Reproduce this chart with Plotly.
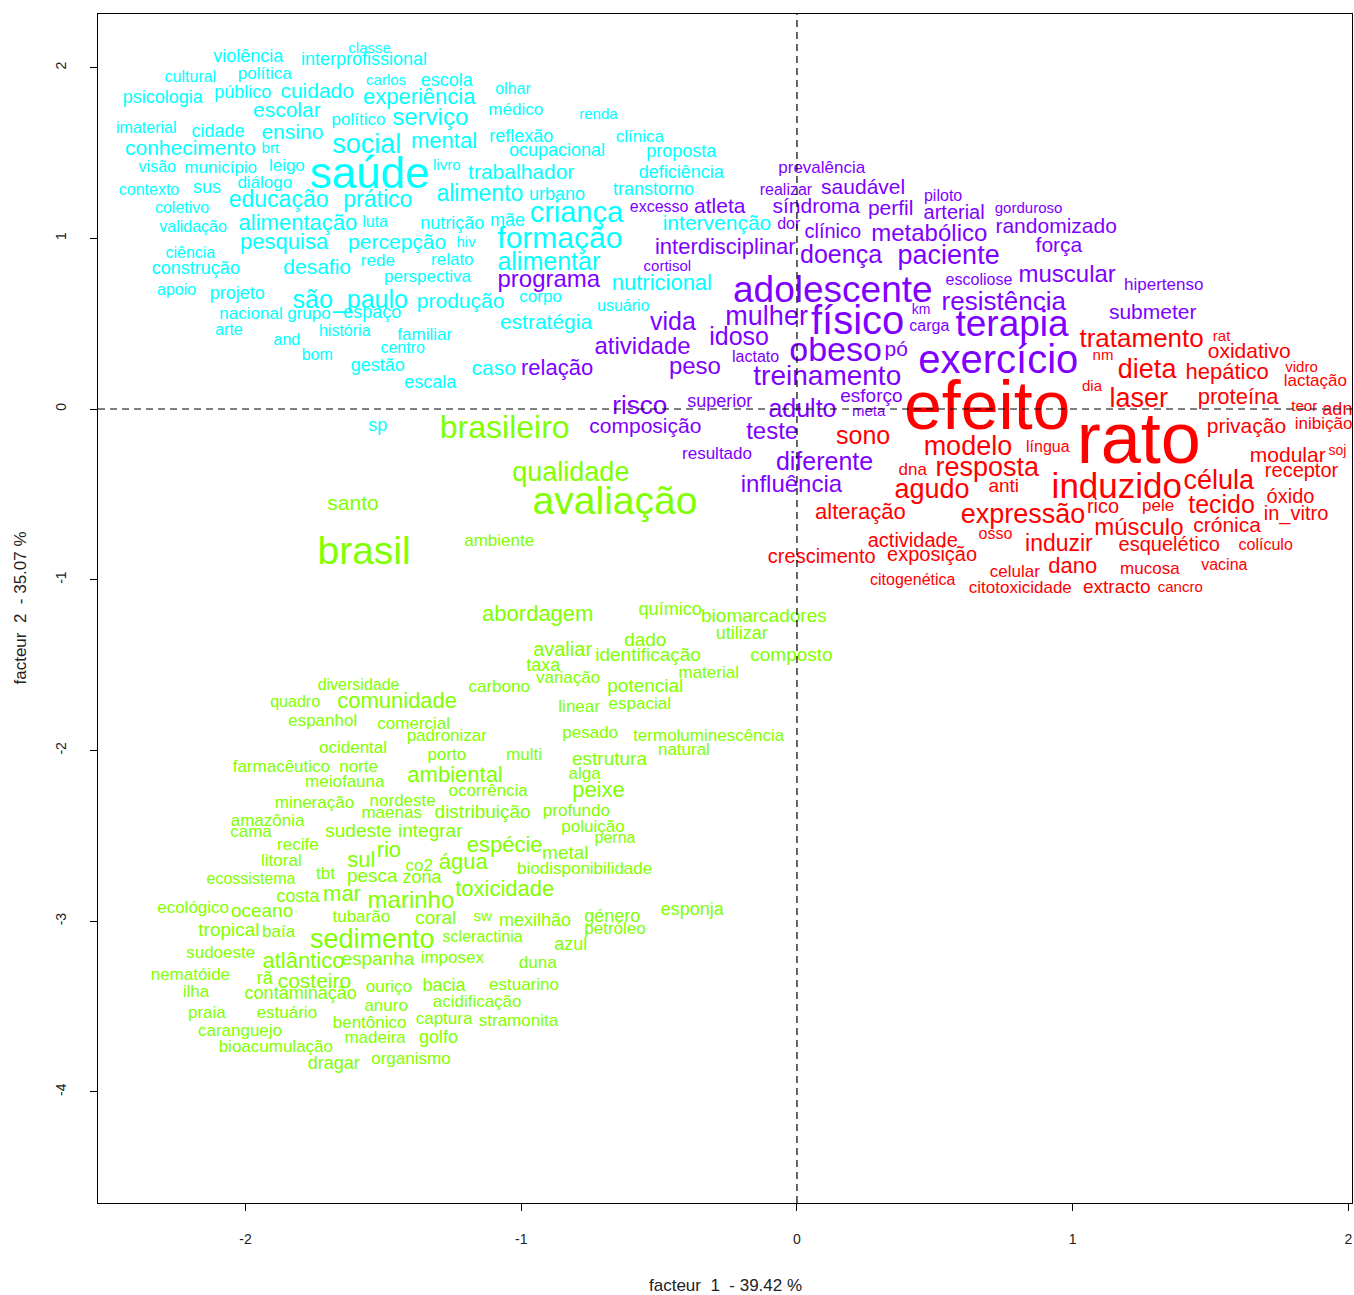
import plotly.graph_objects as go

# ---------------- data: factor coordinates of each word, per class ----------------
cyan_words = ["classe","violência","interprofissional","cultural","política","carlos","escola","olhar",
    "psicologia","público","cuidado","experiência","médico","renda","escolar","político","serviço",
    "imaterial","cidade","ensino","social","mental","reflexão","clínica","conhecimento","brt",
    "ocupacional","proposta","visão","município","leigo","saúde","livro","trabalhador","deficiência",
    "contexto","sus","diálogo","alimento","urbano","transtorno","educação","prático","coletivo",
    "validação","alimentação","luta","nutrição","mãe","criança","intervenção","formação","pesquisa",
    "percepção","hiv","ciência","construção","desafio","rede","relato","perspectiva","alimentar",
    "nutricional","apoio","projeto","são_paulo","produção","corpo","usuário","nacional","grupo",
    "espaço","estratégia","arte","and","história","familiar","centro","bom","gestão","caso","escala","sp"]
cyan_x = [-1.55,-1.99,-1.57,-2.20,-1.93,-1.49,-1.27,-1.03,
    -2.30,-2.01,-1.74,-1.37,-1.02,-0.72,-1.85,-1.59,-1.33,
    -2.36,-2.10,-1.83,-1.56,-1.28,-1.00,-0.57,-2.20,-1.91,
    -0.87,-0.42,-2.32,-2.09,-1.85,-1.55,-1.27,-1.00,-0.42,
    -2.35,-2.14,-1.93,-1.15,-0.87,-0.52,-1.88,-1.52,-2.23,
    -2.19,-1.81,-1.53,-1.25,-1.05,-0.80,-0.29,-0.86,-1.86,
    -1.45,-1.20,-2.20,-2.18,-1.74,-1.52,-1.25,-1.34,-0.90,
    -0.49,-2.25,-2.03,-1.62,-1.22,-0.93,-0.63,-1.98,-1.77,
    -1.54,-0.91,-2.06,-1.85,-1.64,-1.35,-1.43,-1.74,-1.52,-1.10,-1.33,-1.52]
cyan_y = [2.11,2.06,2.04,1.94,1.96,1.92,1.92,1.87,
    1.82,1.85,1.85,1.82,1.75,1.72,1.74,1.69,1.70,
    1.64,1.62,1.61,1.54,1.56,1.59,1.59,1.52,1.52,
    1.51,1.50,1.41,1.41,1.42,1.36,1.42,1.38,1.38,
    1.28,1.29,1.32,1.25,1.25,1.28,1.22,1.22,1.17,
    1.06,1.08,1.09,1.08,1.10,1.14,1.08,0.99,0.97,
    0.97,0.97,0.91,0.82,0.82,0.86,0.87,0.77,0.85,
    0.73,0.69,0.67,0.63,0.62,0.65,0.60,0.55,0.55,
    0.56,0.50,0.46,0.40,0.45,0.43,0.35,0.31,0.25,0.23,0.15,-0.10]
cyan_size = [15,18,18,16,17,15,18,16,
    18,18,21,22,17,15,21,17,24,
    16,18,21,27,22,18,17,21,15,
    18,18,16,17,17,44,15,21,18,
    16,18,17,23,18,18,23,23,16,
    16,22,16,18,18,29,21,30,22,
    21,15,16,18,21,17,17,17,25,
    22,16,18,25,21,17,16,17,17,
    18,21,16,16,16,17,16,16,18,21,18,18]

purple_words = ["prevalência","realizar","saudável","síndroma","perfil","piloto","arterial","gorduroso",
    "excesso","atleta","dor","clínico","metabólico","randomizado","interdisciplinar","doença","paciente",
    "força","cortisol","programa","adolescente","escoliose","muscular","hipertenso","resistência",
    "submeter","km","carga","terapia","mulher","físico","vida","idoso","atividade","lactato","obeso",
    "pó","peso","exercício","treinamento","relação","risco","superior","adulto","esforço","meta",
    "composição","teste","resultado","diferente","influência"]
purple_x = [0.09,-0.04,0.24,0.07,0.34,0.53,0.57,0.84,
    -0.50,-0.28,-0.03,0.13,0.48,0.94,-0.26,0.16,0.55,
    0.95,-0.47,-0.90,0.13,0.66,0.98,1.33,0.75,
    1.29,0.45,0.48,0.78,-0.11,0.22,-0.45,-0.21,-0.56,-0.15,0.14,
    0.36,-0.37,0.73,0.11,-0.87,-0.57,-0.28,0.02,0.27,0.26,
    -0.55,-0.09,-0.29,0.10,-0.02]
purple_y = [1.41,1.28,1.29,1.18,1.17,1.24,1.14,1.17,
    1.18,1.18,1.08,1.03,1.02,1.06,0.94,0.89,0.89,
    0.95,0.83,0.75,0.68,0.75,0.78,0.72,0.62,
    0.56,0.58,0.48,0.48,0.53,0.50,0.50,0.41,0.36,0.30,0.33,
    0.34,0.24,0.27,0.18,0.23,0.01,0.04,-0.01,0.07,-0.02,
    -0.11,-0.14,-0.27,-0.32,-0.45]
purple_size = [17,16,21,21,21,16,20,15,
    16,21,16,20,24,21,22,25,27,
    21,15,24,37,16,24,17,26,
    21,14,16,37,27,40,25,25,24,16,34,
    21,24,40,28,22,26,18,25,19,15,
    21,24,17,25,24]

red_words = ["tratamento","rat","oxidativo","nm","dieta","hepático","vidro","lactação","dia","laser",
    "proteína","teor","adn","efeito","rato","sono","modelo","língua","privação","inibição","modular",
    "soj","dna","resposta","receptor","induzido","célula","agudo","anti","alteração","expressão","rico",
    "pele","tecido","óxido","in_vitro","músculo","crónica","actividade","osso","induzir","esquelético",
    "colículo","crescimento","exposição","dano","mucosa","vacina","celular","citogenética",
    "citotoxicidade","extracto","cancro"]
red_x = [1.25,1.54,1.64,1.11,1.27,1.56,1.83,1.88,1.07,1.24,
    1.60,1.84,1.96,0.69,1.24,0.24,0.62,0.91,1.63,1.91,1.78,
    1.96,0.42,0.69,1.83,1.16,1.53,0.49,0.75,0.23,0.82,1.11,
    1.31,1.54,1.79,1.81,1.24,1.56,0.42,0.72,0.95,1.35,
    1.70,0.09,0.49,1.00,1.28,1.55,0.79,0.42,
    0.81,1.16,1.39]
red_y = [0.40,0.42,0.33,0.31,0.22,0.21,0.24,0.16,0.13,0.05,
    0.06,0.01,-0.01,-0.02,-0.21,-0.17,-0.23,-0.23,-0.11,-0.09,-0.28,
    -0.25,-0.36,-0.35,-0.37,-0.47,-0.43,-0.48,-0.46,-0.61,-0.63,-0.58,
    -0.57,-0.57,-0.52,-0.62,-0.70,-0.69,-0.78,-0.74,-0.80,-0.80,
    -0.80,-0.87,-0.86,-0.93,-0.94,-0.92,-0.96,-1.01,
    -1.05,-1.05,-1.05]
red_size = [26,15,21,15,27,22,15,17,15,27,
    22,15,18,68,72,25,27,16,21,17,21,
    14,17,27,20,35,27,27,19,22,27,20,
    17,25,20,20,24,21,20,16,23,20,
    16,20,20,22,17,16,17,16,
    17,19,15]

green_words = ["brasileiro","qualidade","avaliação","santo","ambiente","brasil","abordagem","químico",
    "biomarcadores","utilizar","dado","avaliar","identificação","composto","taxa","variação","material",
    "carbono","potencial","linear","espacial","pesado","termoluminescência","natural","multi","estrutura",
    "alga","peixe","diversidade","quadro","comunidade","espanhol","comercial","padronizar","ocidental",
    "porto","farmacêutico","norte","meiofauna","ambiental","mineração","nordeste","ocorrência","maenas",
    "distribuição","profundo","amazônia","cama","sudeste","integrar","poluição","perna","recife","rio",
    "espécie","metal","litoral","sul","co2","água","biodisponibilidade","ecossistema","tbt","pesca",
    "zona","toxicidade","costa","mar","marinho","ecológico","oceano","tubarão","coral","sw","mexilhão",
    "género","esponja","petróleo","tropical","baía","sedimento","scleractinia","azul","sudoeste",
    "atlântico","espanha","imposex","duna","nematóide","rã","costeiro","ouriço","bacia","estuarino",
    "ilha","contaminação","anuro","acidificação","praia","estuário","bentônico","captura","stramonita",
    "caranguejo","madeira","golfo","bioacumulação","dragar","organismo"]
green_x = [-1.06,-0.82,-0.66,-1.61,-1.08,-1.57,-0.94,-0.46,
    -0.12,-0.20,-0.55,-0.85,-0.54,-0.02,-0.92,-0.83,-0.32,
    -1.08,-0.55,-0.79,-0.57,-0.75,-0.32,-0.41,-0.99,-0.68,
    -0.77,-0.72,-1.59,-1.82,-1.45,-1.72,-1.39,-1.27,-1.61,
    -1.27,-1.87,-1.59,-1.64,-1.24,-1.75,-1.43,-1.12,-1.47,
    -1.14,-0.80,-1.92,-1.98,-1.59,-1.33,-0.74,-0.66,-1.81,-1.48,
    -1.06,-0.84,-1.87,-1.58,-1.37,-1.21,-0.77,-1.98,-1.71,-1.54,
    -1.36,-1.06,-1.81,-1.65,-1.40,-2.19,-1.94,-1.58,-1.31,-1.14,-0.95,
    -0.67,-0.38,-0.66,-2.06,-1.88,-1.54,-1.14,-0.82,-2.09,
    -1.79,-1.52,-1.25,-0.94,-2.20,-1.93,-1.75,-1.48,-1.28,-0.99,
    -2.18,-1.80,-1.49,-1.16,-2.14,-1.85,-1.55,-1.28,-1.01,
    -2.02,-1.53,-1.30,-1.89,-1.68,-1.40]
green_y = [-0.12,-0.38,-0.56,-0.56,-0.78,-0.85,-1.21,-1.18,
    -1.22,-1.32,-1.36,-1.42,-1.45,-1.45,-1.51,-1.58,-1.55,
    -1.63,-1.63,-1.75,-1.73,-1.90,-1.92,-2.00,-2.03,-2.06,
    -2.14,-2.24,-1.62,-1.72,-1.72,-1.83,-1.85,-1.92,-1.99,
    -2.03,-2.10,-2.10,-2.19,-2.15,-2.31,-2.30,-2.24,-2.37,
    -2.37,-2.36,-2.42,-2.48,-2.48,-2.48,-2.45,-2.52,-2.56,-2.59,
    -2.56,-2.61,-2.65,-2.65,-2.68,-2.66,-2.70,-2.76,-2.73,-2.74,
    -2.75,-2.82,-2.86,-2.85,-2.89,-2.93,-2.95,-2.98,-2.99,-2.98,-3.00,
    -2.98,-2.94,-3.05,-3.06,-3.07,-3.12,-3.10,-3.14,-3.19,
    -3.24,-3.23,-3.22,-3.25,-3.32,-3.34,-3.36,-3.39,-3.38,-3.38,
    -3.42,-3.43,-3.50,-3.48,-3.54,-3.54,-3.60,-3.58,-3.59,
    -3.65,-3.69,-3.69,-3.74,-3.84,-3.81]
green_size = [32,27,39,21,17,39,22,18,
    19,18,19,20,19,19,18,17,17,
    17,19,17,17,17,17,17,17,19,
    17,22,16,16,22,17,17,17,17,
    17,17,17,17,22,17,17,17,17,
    19,17,17,17,19,19,17,16,17,22,
    22,19,17,22,17,22,17,16,17,19,
    18,22,18,22,24,17,19,17,19,15,18,
    18,18,17,19,17,27,16,18,17,
    22,19,17,17,17,18,21,17,18,17,
    17,18,17,17,17,17,17,17,17,
    17,17,18,17,18,17]

x_ticks = [-2, -1, 0, 1, 2]
y_ticks = [2, 1, 0, -1, -2, -3, -4]
x_title = "facteur  1  - 39.42 %"
y_title = "facteur  2  - 35.07 %"

# ---------------- styles ----------------
FONT = "Liberation Sans, Arial, Helvetica, sans-serif"
classes = [
    (cyan_words, cyan_x, cyan_y, cyan_size, "#00FFFF"),
    (purple_words, purple_x, purple_y, purple_size, "#8000FF"),
    (red_words, red_x, red_y, red_size, "#FF0000"),
    (green_words, green_x, green_y, green_size, "#80FF00"),
]

fig = go.Figure()
for words, xs, ys, sizes, color in classes:
    fig.add_trace(go.Scatter(
        x=xs, y=ys, text=words, mode="text",
        textposition="middle center",
        textfont=dict(family=FONT, size=sizes, color=color),
        hoverinfo="text", showlegend=False, cliponaxis=True,
    ))

# dashed reference lines at 0
fig.add_shape(type="line", xref="x", yref="paper", x0=0, x1=0, y0=0, y1=1,
              line=dict(color="black", width=1.2, dash="7px,5px"))
fig.add_shape(type="line", xref="paper", yref="y", x0=0, x1=1, y0=0, y1=0,
              line=dict(color="black", width=1.2, dash="7px,5px"))

axis_common = dict(showgrid=False, zeroline=False, showline=True, mirror=True,
                   linecolor="black", linewidth=1, ticks="outside", ticklen=7,
                   tickcolor="black", tickwidth=1,
                   tickfont=dict(family=FONT, size=14, color="#222222"))

fig.update_xaxes(range=[-2.535, 2.013], tickvals=x_ticks,
                 ticktext=[str(v) for v in x_ticks], ticklabelstandoff=16, **axis_common)
fig.update_yaxes(range=[-4.651, 2.314], tickvals=y_ticks,
                 ticktext=[str(v) for v in y_ticks], tickangle=-90,
                 ticklabelstandoff=18, **axis_common)

fig.add_annotation(text=x_title, xref="paper", yref="paper", x=0.5, y=0,
                   yshift=-82, showarrow=False, xanchor="center", yanchor="middle",
                   font=dict(family=FONT, size=17, color="#222222"))
fig.add_annotation(text=y_title, xref="paper", yref="paper", x=0, y=0.5,
                   xshift=-78, showarrow=False, textangle=-90,
                   xanchor="center", yanchor="middle",
                   font=dict(family=FONT, size=17, color="#222222"))

fig.update_layout(width=1354, height=1295,
                  margin=dict(l=98, r=2, t=14, b=92, pad=0),
                  plot_bgcolor="white", paper_bgcolor="white",
                  font=dict(family=FONT))

fig.write_html("out.html", config={"displayModeBar": False},
               post_script="document.body.style.margin='0px';document.body.style.overflow='hidden';")
